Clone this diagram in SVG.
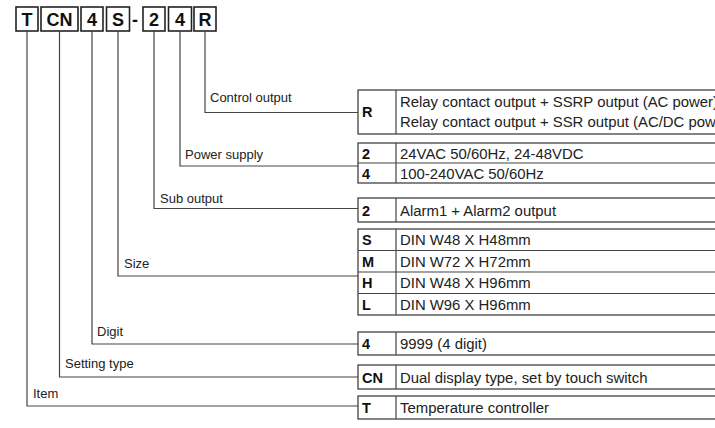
<svg xmlns="http://www.w3.org/2000/svg" width="715" height="428" viewBox="0 0 715 428">
<style>
.bg{fill:#fff}
.box{fill:#fff;stroke:#222;stroke-width:1.6}
.hd{font-family:"Liberation Sans",Arial,sans-serif;font-weight:bold;font-size:18px;fill:#111;text-anchor:middle}
.conn{fill:none;stroke:#444;stroke-width:1.2}
.lbl{font-family:"Liberation Sans",Arial,sans-serif;font-size:13px;fill:#222}
.tb{fill:#fff;stroke:#333;stroke-width:1.2}
.code{font-family:"Liberation Sans",Arial,sans-serif;font-weight:bold;font-size:14.5px;fill:#111}
.desc{font-family:"Liberation Sans",Arial,sans-serif;font-size:14.9px;fill:#222}
</style>
<rect class="bg" x="0" y="0" width="715" height="428"/>
<g id="model">
<rect class="box" x="16" y="7" width="22" height="24"/><text class="hd" x="27" y="25.5">T</text>
<rect class="box" x="41" y="7" width="37" height="24"/><text class="hd" x="59.5" y="25.5">CN</text>
<rect class="box" x="81" y="7" width="22" height="24"/><text class="hd" x="92" y="25.5">4</text>
<rect class="box" x="106.5" y="7" width="23" height="24"/><text class="hd" x="118" y="25.5">S</text>
<text class="hd" x="135" y="25.5">-</text>
<rect class="box" x="143" y="7" width="22" height="24"/><text class="hd" x="154" y="25.5">2</text>
<rect class="box" x="168.5" y="7" width="23" height="24"/><text class="hd" x="180" y="25.5">4</text>
<rect class="box" x="194" y="7" width="22" height="24"/><text class="hd" x="205" y="25.5">R</text>
</g>
<g id="connectors">
<polyline class="conn" points="205,31 205,112.5 358,112.5"/>
<polyline class="conn" points="180,31 180,166 358,166"/>
<polyline class="conn" points="154,31 154,208.5 358,208.5"/>
<polyline class="conn" points="118,31 118,276 358,276"/>
<polyline class="conn" points="92,31 92,344 358,344"/>
<polyline class="conn" points="59.5,31 59.5,377 358,377"/>
<polyline class="conn" points="27,31 27,406 358,406"/>
</g>
<g id="labels">
<text class="lbl" x="210" y="101.5">Control output</text>
<text class="lbl" x="185" y="158.5">Power supply</text>
<text class="lbl" x="160" y="202.5">Sub output</text>
<text class="lbl" x="124" y="268">Size</text>
<text class="lbl" x="97" y="335.5">Digit</text>
<text class="lbl" x="65" y="367.5">Setting type</text>
<text class="lbl" x="33" y="397.5">Item</text>
</g>
<g id="control-output">
<rect class="tb" x="358" y="90" width="370" height="44"/>
<line class="conn" x1="396" y1="90" x2="396" y2="134"/>
<text class="code" x="362" y="117">R</text>
<text class="desc" x="400" y="107">Relay contact output + SSRP output (AC power)</text>
<text class="desc" x="400" y="127">Relay contact output + SSR output (AC/DC power)</text>
</g>
<g id="power-supply">
<rect class="tb" x="358" y="143" width="370" height="40"/>
<line class="conn" x1="358" y1="163" x2="728" y2="163"/>
<line class="conn" x1="396" y1="143" x2="396" y2="183"/>
<text class="code" x="362" y="158.5">2</text><text class="desc" x="400" y="158.5">24VAC 50/60Hz, 24-48VDC</text>
<text class="code" x="362" y="178.5">4</text><text class="desc" x="400" y="178.5">100-240VAC 50/60Hz</text>
</g>
<g id="sub-output">
<rect class="tb" x="358" y="198" width="370" height="24"/>
<line class="conn" x1="396" y1="198" x2="396" y2="222"/>
<text class="code" x="362" y="215.5">2</text><text class="desc" x="400" y="215.5">Alarm1 + Alarm2 output</text>
</g>
<g id="size">
<rect class="tb" x="358" y="229" width="370" height="86"/>
<line class="conn" x1="358" y1="250.5" x2="728" y2="250.5"/>
<line class="conn" x1="358" y1="272" x2="728" y2="272"/>
<line class="conn" x1="358" y1="293.5" x2="728" y2="293.5"/>
<line class="conn" x1="396" y1="229" x2="396" y2="315"/>
<text class="code" x="362" y="245">S</text><text class="desc" x="400" y="245">DIN W48 X H48mm</text>
<text class="code" x="362" y="266.5">M</text><text class="desc" x="400" y="266.5">DIN W72 X H72mm</text>
<text class="code" x="362" y="288">H</text><text class="desc" x="400" y="288">DIN W48 X H96mm</text>
<text class="code" x="362" y="309.5">L</text><text class="desc" x="400" y="309.5">DIN W96 X H96mm</text>
</g>
<g id="digit">
<rect class="tb" x="358" y="332" width="370" height="23"/>
<line class="conn" x1="396" y1="332" x2="396" y2="355"/>
<text class="code" x="362" y="349">4</text><text class="desc" x="400" y="349">9999 (4 digit)</text>
</g>
<g id="setting-type">
<rect class="tb" x="358" y="365" width="370" height="24"/>
<line class="conn" x1="396" y1="365" x2="396" y2="389"/>
<text class="code" x="362" y="382.5">CN</text><text class="desc" x="400" y="382.5">Dual display type, set by touch switch</text>
</g>
<g id="item">
<rect class="tb" x="358" y="396" width="370" height="23"/>
<line class="conn" x1="396" y1="396" x2="396" y2="419"/>
<text class="code" x="362" y="413">T</text><text class="desc" x="400" y="413">Temperature controller</text>
</g>
</svg>
